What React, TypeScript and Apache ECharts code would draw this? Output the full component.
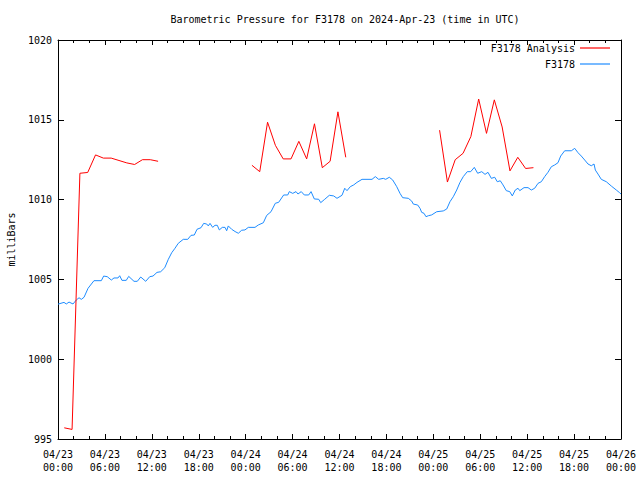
import React, { useEffect, useRef } from "react";
import * as echarts from "echarts";

// hours since 2024-04-23 00:00 UTC
const xTickLabels = ["04/23\n00:00","04/23\n06:00","04/23\n12:00","04/23\n18:00","04/24\n00:00","04/24\n06:00","04/24\n12:00","04/24\n18:00","04/25\n00:00","04/25\n06:00","04/25\n12:00","04/25\n18:00","04/26\n00:00"];
const yTicks = [995, 1000, 1005, 1010, 1015, 1020];

const analysisHours1 = [0.8,1.8,2.8,3.8,4.8,5.8,6.8,7.8,8.8,9.8,10.8,11.8,12.8];
const analysisValues1 = [995.7,995.6,1011.65,1011.7,1012.8,1012.6,1012.6,1012.45,1012.3,1012.2,1012.5,1012.5,1012.4];
const analysisHours2 = [24.8,25.8,26.8,27.8,28.8,29.8,30.8,31.8,32.8,33.8,34.8,35.8,36.8];
const analysisValues2 = [1012.15,1011.75,1014.85,1013.4,1012.55,1012.55,1013.65,1012.55,1014.75,1012.0,1012.4,1015.5,1012.65];
const analysisHours3 = [48.8,49.8,50.8,51.8,52.8,53.8,54.8,55.8,56.8,57.8,58.8,59.8,60.8];
const analysisValues3 = [1014.35,1011.1,1012.5,1012.9,1013.95,1016.3,1014.15,1016.25,1014.55,1011.8,1012.65,1011.95,1012.0];

const stationHours = [0,0.77,1.06,1.41,1.92,2.34,2.69,2.98,3.33,3.84,4.6,5.54,5.84,6.3,6.82,7.16,7.67,7.89,8.18,8.73,9.04,9.72,10.14,10.58,11.22,11.73,12.15,12.66,13.13,13.65,14.11,14.54,14.96,15.38,16.02,16.59,17.01,17.43,17.78,18.29,18.63,19.02,19.22,19.44,19.78,20.08,20.37,20.63,21.01,21.36,21.57,21.78,22.21,22.64,23.06,23.49,23.91,24.34,25.19,25.62,26.26,26.69,27.24,27.79,28.22,28.86,29.38,29.58,30.02,30.44,30.69,31.11,31.5,32.06,32.36,32.78,33.34,33.6,34.11,34.7,35.26,35.68,36.32,36.67,36.96,37.38,37.82,38.24,38.88,40.16,40.58,41.01,41.6,41.91,42.37,42.8,43.32,43.74,44.08,44.8,45.23,45.44,46.0,46.3,46.51,46.81,47.06,47.36,47.79,48.43,49.27,49.71,50.13,50.55,50.99,51.41,51.83,52.34,52.78,53.24,53.67,54.19,54.61,54.99,55.42,55.85,56.18,56.56,56.91,57.33,57.77,58.1,58.48,58.83,59.05,59.6,60.11,60.53,60.96,61.39,61.81,62.24,62.66,63.09,63.52,63.94,64.29,64.8,65.65,66.08,66.5,66.92,67.36,67.78,68.2,68.55,68.72,69.06,69.48,70.12,70.76,71.4,71.83,72.0];
const stationValues = [1003.45,1003.56,1003.46,1003.58,1003.46,1003.71,1003.85,1003.75,1003.88,1004.44,1004.92,1004.92,1005.21,1005.17,1004.96,1005.09,1005.09,1005.23,1004.94,1004.94,1005.19,1004.88,1004.88,1005.15,1004.88,1005.17,1005.21,1005.44,1005.48,1005.73,1006.26,1006.67,1006.95,1007.26,1007.51,1007.51,1007.76,1007.78,1008.14,1008.24,1008.51,1008.47,1008.35,1008.51,1008.26,1008.39,1008.39,1008.1,1008.26,1008.26,1008.05,1008.35,1008.14,1008.0,1007.89,1008.08,1008.1,1008.26,1008.26,1008.41,1008.55,1009.01,1009.24,1009.77,1009.83,1010.29,1010.29,1010.5,1010.39,1010.5,1010.35,1010.5,1010.29,1010.29,1010.5,1010.04,1010.02,1009.81,1010.02,1010.27,1010.23,1010.08,1010.27,1010.71,1010.56,1010.81,1010.92,1011.08,1011.27,1011.27,1011.44,1011.27,1011.33,1011.27,1011.4,1011.23,1010.81,1010.39,1010.12,1010.08,1009.91,1009.72,1009.66,1009.45,1009.2,1009.14,1008.93,1008.99,1009.04,1009.24,1009.29,1009.41,1009.87,1010.18,1010.6,1011.08,1011.44,1011.75,1011.75,1012.02,1011.65,1011.75,1011.58,1011.71,1011.33,1011.4,1011.12,1011.18,1010.92,1010.56,1010.5,1010.23,1010.6,1010.71,1010.56,1010.75,1010.75,1010.6,1010.71,1011.02,1011.12,1011.44,1011.71,1012.06,1012.17,1012.31,1012.73,1013.06,1013.06,1013.21,1012.94,1012.73,1012.48,1012.23,1012.12,1012.23,1011.85,1011.6,1011.27,1011.12,1010.85,1010.6,1010.43,1010.35];

const FONT = "DejaVu Sans Mono";

export default function App() {
  const ref = useRef<HTMLDivElement>(null);
  useEffect(() => {
    if (!ref.current) return;
    const chart = echarts.init(ref.current, null, { renderer: "svg" });
    const zip = (h: number[], v: number[]) => h.map((x, i) => [x, v[i]]);
    const analysisData: any[] = [
      ...zip(analysisHours1, analysisValues1),
      [18, "-"],
      ...zip(analysisHours2, analysisValues2),
      [42, "-"],
      ...zip(analysisHours3, analysisValues3),
    ];
    const stationData = zip(stationHours, stationValues);
    const txt = { color: "#000", fontFamily: FONT, fontSize: 10 };
    const line = { lineStyle: { color: "#000", width: 1 } };
    const legendBase = {
      align: "right",
      icon: "rect",
      itemWidth: 30,
      itemHeight: 1.2,
      textStyle: txt,
      selectedMode: false,
      right: 25,
    };
    const option: any = {
      animation: false,
      backgroundColor: "#fff",
      title: {
        text: "Barometric Pressure for F3178 on 2024-Apr-23 (time in UTC)",
        left: 340,
        top: 9,
        textAlign: "center",
        textStyle: { ...txt, fontWeight: "normal" },
      },
      legend: [
        { ...legendBase, data: ["F3178 Analysis"], top: 38 },
        { ...legendBase, data: ["F3178"], top: 54 },
      ],
      grid: {
        left: 58,
        right: 19,
        top: 40,
        bottom: 41,
        containLabel: false,
        outerBoundsMode: "none",
      },
      xAxis: [
        {
          type: "value",
          min: 0,
          max: 72,
          interval: 6,
          axisLine: { show: true, onZero: false, ...line },
          axisTick: { show: true, inside: true, length: 5, ...line },
          minorTick: { show: true, splitNumber: 3, length: 3, ...line },
          splitLine: { show: false },
          axisLabel: {
            ...txt,
            margin: 9,
            lineHeight: 13,
            formatter: (v: number) => xTickLabels[Math.round(v / 6)] ?? "",
          },
        },
        {
          type: "value",
          position: "top",
          min: 0,
          max: 72,
          interval: 6,
          axisLine: { show: true, onZero: false, ...line },
          axisTick: { show: true, inside: true, length: 5, ...line },
          minorTick: { show: true, splitNumber: 3, length: 3, ...line },
          splitLine: { show: false },
          axisLabel: { show: false },
        },
      ],
      yAxis: [
        {
          type: "value",
          min: yTicks[0],
          max: yTicks[yTicks.length - 1],
          interval: 5,
          name: "milliBars",
          nameLocation: "middle",
          nameRotate: 90,
          nameGap: 42,
          nameTextStyle: txt,
          axisLine: { show: true, onZero: false, ...line },
          axisTick: { show: true, inside: true, length: 6, ...line },
          splitLine: { show: false },
          axisLabel: { ...txt, margin: 6, formatter: (v: number) => String(v) },
        },
        {
          type: "value",
          position: "right",
          min: yTicks[0],
          max: yTicks[yTicks.length - 1],
          interval: 5,
          axisLine: { show: true, onZero: false, ...line },
          axisTick: { show: true, inside: true, length: 6, ...line },
          splitLine: { show: false },
          axisLabel: { show: false },
        },
      ],
      series: [
        {
          name: "F3178",
          type: "line",
          data: stationData,
          showSymbol: false,
          symbol: "none",
          color: "#1e8cff",
          lineStyle: { color: "#1e8cff", width: 1 },
          z: 2,
        },
        {
          name: "F3178 Analysis",
          type: "line",
          data: analysisData,
          showSymbol: false,
          symbol: "none",
          connectNulls: false,
          color: "#ff0000",
          lineStyle: { color: "#ff0000", width: 1 },
          z: 3,
        },
      ],
    };
    chart.setOption(option);
    return () => chart.dispose();
  }, []);
  return (
    <div
      ref={ref}
      style={{ position: "fixed", left: 0, top: 0, width: 640, height: 480 }}
    />
  );
}
